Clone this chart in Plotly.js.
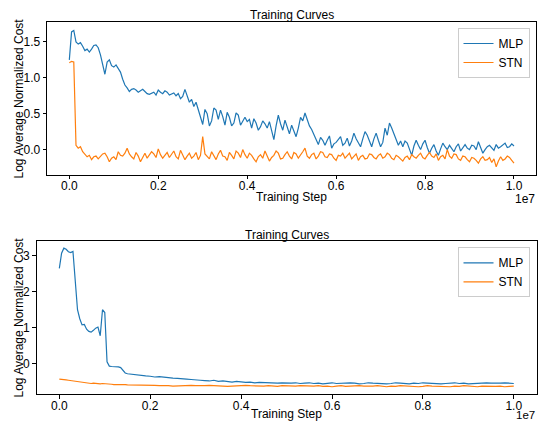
<!DOCTYPE html>
<html>
<head>
<meta charset="utf-8">
<script src="https://cdn.plot.ly/plotly-3.0.1.min.js"></script>
<style>html,body{margin:0;padding:0;background:#fff;}#chart{width:541px;height:421px;}</style>
</head>
<body>
<div id="chart"></div>
<script>
// Training step in units of 1e7
const stepsTop = [0,0.005,0.01,0.015,0.02,0.025,0.03,0.035,0.04,0.045,
0.05,0.055,0.06,0.065,0.07,0.075,0.08,0.085,0.09,0.095,
0.10,0.105,0.11,0.115,0.12,0.125,0.13,0.135,0.14,0.145,
0.15,0.155,0.16,0.165,0.17,0.175,0.18,0.185,0.19,0.195,
0.20,0.205,0.21,0.215,0.22,0.225,0.23,0.235,0.24,0.245,
0.25,0.255,0.26,0.265,0.27,0.275,0.28,0.285,0.29,0.295,
0.30,0.305,0.31,0.315,0.32,0.325,0.33,0.335,0.34,0.345,
0.35,0.355,0.36,0.365,0.37,0.375,0.38,0.385,0.39,0.395,
0.40,0.405,0.41,0.415,0.42,0.425,0.43,0.435,0.44,0.445,
0.45,0.455,0.46,0.465,0.47,0.475,0.48,0.485,0.49,0.495,
0.50,0.505,0.51,0.515,0.52,0.525,0.53,0.535,0.54,0.545,
0.55,0.555,0.56,0.565,0.57,0.575,0.58,0.585,0.59,0.595,
0.60,0.605,0.61,0.615,0.62,0.625,0.63,0.635,0.64,0.645,
0.65,0.655,0.66,0.665,0.67,0.675,0.68,0.685,0.69,0.695,
0.70,0.705,0.71,0.715,0.72,0.725,0.73,0.735,0.74,0.745,
0.75,0.755,0.76,0.765,0.77,0.775,0.78,0.785,0.79,0.795,
0.80,0.805,0.81,0.815,0.82,0.825,0.83,0.835,0.84,0.845,
0.85,0.855,0.86,0.865,0.87,0.875,0.88,0.885,0.89,0.895,
0.90,0.905,0.91,0.915,0.92,0.925,0.93,0.935,0.94,0.945,
0.95,0.955,0.96,0.965,0.97,0.975,0.98,0.985,0.99,0.995,
1.00];

const mlpTop = [1.25,1.64,1.66,1.50,1.47,1.49,1.44,1.38,1.40,1.36,
1.40,1.45,1.46,1.42,1.32,1.18,1.05,1.22,1.25,1.17,
1.15,1.18,1.12,1.08,0.98,0.90,0.86,0.81,0.84,0.85,
0.83,0.80,0.82,0.84,0.81,0.78,0.77,0.79,0.80,0.76,
0.83,0.80,0.78,0.82,0.80,0.76,0.77,0.79,0.75,0.78,
0.71,0.74,0.84,0.76,0.66,0.70,0.60,0.66,0.55,0.45,
0.35,0.56,0.50,0.33,0.40,0.58,0.55,0.42,0.55,0.46,
0.34,0.52,0.45,0.33,0.37,0.51,0.48,0.34,0.39,0.45,
0.39,0.42,0.30,0.43,0.37,0.27,0.32,0.40,0.36,0.30,
0.39,0.28,0.14,0.33,0.48,0.36,0.27,0.41,0.30,0.22,
0.34,0.27,0.18,0.30,0.45,0.40,0.51,0.42,0.33,0.28,
0.20,0.14,0.07,0.17,0.13,0.06,0.13,0.19,0.02,0.08,
0.10,0.14,0.18,0.06,0.09,0.16,0.05,0.12,0.23,0.15,
0.09,0.04,0.15,0.25,0.20,0.12,0.04,0.15,0.23,0.13,
0.04,0.10,0.30,0.20,0.37,0.30,0.23,0.14,0.06,0.12,
0.04,0.12,0.09,0.00,-0.08,0.05,0.13,0.06,0.00,0.08,
0.13,0.03,-0.05,0.02,0.07,-0.02,-0.08,0.01,0.09,0.04,
0.00,0.06,0.02,-0.03,0.04,0.08,-0.02,0.03,0.07,0.02,
0.00,0.06,0.05,0.00,0.11,0.03,-0.05,0.00,0.04,0.06,
0.02,-0.01,0.07,0.02,0.04,0.06,0.09,0.03,0.04,0.08,
0.05];

const stnTop = [1.21,1.23,1.22,0.06,0.02,0.04,-0.03,-0.07,-0.10,-0.08,
-0.14,-0.10,-0.09,-0.13,-0.09,-0.06,-0.05,-0.10,-0.17,-0.12,
-0.10,-0.14,-0.03,-0.08,-0.09,-0.05,0.02,-0.06,-0.10,-0.13,
-0.04,-0.09,-0.17,-0.11,-0.05,-0.12,-0.08,-0.03,-0.06,-0.11,
0.01,-0.07,-0.12,-0.08,-0.04,-0.11,-0.06,-0.02,-0.10,-0.13,
-0.01,-0.08,-0.14,-0.09,-0.05,-0.12,-0.09,-0.04,-0.14,-0.08,
0.18,-0.06,-0.09,-0.13,-0.03,-0.09,-0.14,-0.06,-0.01,-0.09,
-0.10,-0.15,-0.04,-0.08,-0.13,-0.02,-0.05,-0.11,0.00,-0.07,
-0.12,-0.05,-0.08,-0.13,-0.17,-0.10,-0.07,-0.12,-0.02,-0.09,
-0.16,-0.11,-0.08,-0.02,-0.05,-0.13,-0.12,-0.07,-0.03,-0.09,
-0.13,-0.04,-0.06,-0.12,-0.08,-0.03,0.02,-0.09,-0.12,-0.07,
-0.05,-0.13,-0.09,-0.03,-0.04,-0.10,-0.11,-0.06,-0.07,-0.12,
-0.15,-0.08,-0.09,-0.05,-0.12,-0.08,-0.05,-0.13,-0.10,-0.06,
-0.15,-0.10,-0.08,-0.13,-0.12,-0.06,-0.07,-0.11,-0.13,-0.08,
-0.06,-0.12,-0.10,-0.05,-0.07,-0.12,-0.14,-0.08,-0.10,-0.13,
-0.16,-0.11,-0.09,-0.14,-0.07,-0.10,-0.12,-0.08,-0.05,-0.11,
-0.13,-0.08,-0.04,-0.09,-0.11,-0.06,-0.15,-0.10,-0.08,-0.13,
0.00,-0.09,-0.12,-0.06,-0.07,-0.13,-0.15,-0.09,-0.10,-0.14,
-0.17,-0.11,-0.12,-0.15,-0.19,-0.13,-0.10,-0.15,-0.14,-0.11,
-0.18,-0.13,-0.24,-0.16,-0.10,-0.15,-0.13,-0.09,-0.11,-0.15,
-0.19];

const stepsBottom = [0,0.005,0.01,0.015,0.02,0.025,0.03,0.035,0.04,0.045,
0.05,0.055,0.06,0.065,0.07,0.075,0.08,0.085,0.09,0.095,
0.10,0.105,0.11,0.115,0.12,0.125,0.13,0.135,0.14,0.145,0.15,
0.16,0.17,0.18,0.19,0.20,0.21,0.22,0.23,0.24,0.25,
0.26,0.27,0.28,0.29,0.30,0.31,0.32,0.33,0.34,0.35,
0.36,0.37,0.38,0.39,0.40,0.41,0.42,0.43,0.44,0.45,
0.46,0.47,0.48,0.49,0.50,0.51,0.52,0.53,0.54,0.55,
0.56,0.57,0.58,0.59,0.60,0.61,0.62,0.63,0.64,0.65,
0.66,0.67,0.68,0.69,0.70,0.71,0.72,0.73,0.74,0.75,
0.76,0.77,0.78,0.79,0.80,0.81,0.82,0.83,0.84,0.85,
0.86,0.87,0.88,0.89,0.90,0.91,0.92,0.93,0.94,0.95,
0.96,0.97,0.98,0.99,1.00];

const mlpBottom = [2.64,3.06,3.20,3.17,3.10,3.08,3.11,2.35,1.50,1.25,
1.08,1.09,0.96,0.90,0.88,0.93,0.99,1.02,0.78,1.50,
1.42,0.06,-0.06,-0.07,-0.07,-0.08,-0.08,-0.10,-0.18,-0.25,-0.27,
-0.29,-0.30,-0.31,-0.33,-0.34,-0.36,-0.35,-0.37,-0.38,-0.39,
-0.40,-0.40,-0.42,-0.43,-0.43,-0.45,-0.46,-0.47,-0.45,-0.48,
-0.47,-0.49,-0.50,-0.48,-0.50,-0.51,-0.50,-0.52,-0.51,-0.52,
-0.53,-0.52,-0.53,-0.52,-0.53,
-0.53,-0.52,-0.54,-0.53,-0.52,-0.54,-0.53,-0.55,-0.53,-0.52,
-0.54,-0.53,-0.54,-0.52,-0.53,-0.55,-0.54,-0.52,-0.53,-0.54,
-0.53,-0.55,-0.54,-0.52,-0.53,-0.54,-0.55,-0.53,-0.54,-0.52,
-0.53,-0.54,-0.53,-0.55,-0.54,-0.53,-0.52,-0.54,-0.53,-0.55,
-0.54,-0.53,-0.54,-0.52,-0.53,-0.54,-0.53,-0.52,-0.53,-0.54];

const stnBottom = [-0.42,-0.42,-0.43,-0.44,-0.45,-0.46,-0.47,-0.49,-0.50,-0.51,
-0.52,-0.52,-0.53,-0.53,-0.54,-0.53,-0.54,-0.55,-0.55,-0.54,
-0.55,-0.56,-0.55,-0.56,-0.57,-0.56,-0.57,-0.57,-0.56,-0.57,-0.58,
-0.58,-0.57,-0.58,-0.59,-0.58,-0.59,-0.60,-0.59,-0.60,-0.61,
-0.60,-0.61,-0.60,-0.59,-0.60,-0.61,-0.60,-0.59,-0.60,-0.61,
-0.60,-0.62,-0.61,-0.60,-0.61,-0.59,-0.60,-0.61,-0.62,-0.61,
-0.60,-0.61,-0.62,-0.60,-0.61,-0.62,-0.61,-0.60,-0.61,-0.62,
-0.61,-0.60,-0.62,-0.61,-0.63,-0.61,-0.60,-0.62,-0.61,-0.62,
-0.60,-0.61,-0.62,-0.61,-0.60,-0.62,-0.63,-0.61,-0.62,-0.60,
-0.61,-0.62,-0.61,-0.63,-0.62,-0.60,-0.61,-0.62,-0.61,-0.62,
-0.63,-0.61,-0.62,-0.60,-0.61,-0.62,-0.63,-0.61,-0.62,-0.61,
-0.62,-0.61,-0.63,-0.62,-0.61];

const xTicks = [0, 0.2, 0.4, 0.6, 0.8, 1.0];
const seriesNames = ['MLP', 'STN'];
const colors = ['#1f77b4', '#ff7f0e'];

const W = 541, H = 421;
const FONT = 'Liberation Sans, Arial, Helvetica, sans-serif';
const px = v => v / W;
const py = v => 1 - v / H;

const mk = (x, y, i, xa, ya, lg) => ({
  x, y, name: seriesNames[i], type: 'scatter', mode: 'lines',
  line: {color: colors[i], width: 1.2}, xaxis: xa, yaxis: ya, legend: lg
});

const traces = [
  mk(stepsTop, mlpTop, 0, 'x', 'y', 'legend'),
  mk(stepsTop, stnTop, 1, 'x', 'y', 'legend'),
  mk(stepsBottom, mlpBottom, 0, 'x2', 'y2', 'legend2'),
  mk(stepsBottom, stnBottom, 1, 'x2', 'y2', 'legend2')
];

const axisBase = {
  showline: true, mirror: true, linecolor: '#000', linewidth: 1,
  ticks: 'outside', ticklen: 3.5, tickwidth: 1, tickcolor: '#000',
  showgrid: false, zeroline: false,
  tickfont: {family: FONT, size: 12, color: '#000'}
};

const legendBase = {
  bgcolor: 'rgba(255,255,255,0.8)', bordercolor: '#cccccc', borderwidth: 1,
  font: {family: FONT, size: 12, color: '#000'},
  xanchor: 'right', yanchor: 'top', tracegroupgap: 0
};

const ann = (text, x, y, extra) => Object.assign({
  text, x, y, xref: 'paper', yref: 'paper', showarrow: false,
  xanchor: 'center', yanchor: 'middle',
  font: {family: FONT, size: 12, color: '#000'}
}, extra || {});

const layout = {
  width: W, height: H,
  margin: {l: 0, r: 0, t: 0, b: 0},
  paper_bgcolor: '#fff', plot_bgcolor: '#fff',
  showlegend: true,
  xaxis: Object.assign({}, axisBase, {domain: [px(47.1), px(536.2)], range: [-0.05, 1.05],
    tickvals: xTicks, tickformat: '.1f', anchor: 'y', ticklabelstandoff: -3}),
  yaxis: Object.assign({}, axisBase, {domain: [py(174.5), py(22.3)], range: [-0.347, 1.774],
    dtick: 0.5, tick0: 0, tickformat: '.1f', anchor: 'x'}),
  xaxis2: Object.assign({}, axisBase, {domain: [px(36.6), px(536.5)], range: [-0.05, 1.05],
    tickvals: xTicks, tickformat: '.1f', anchor: 'y2', ticklabelstandoff: -3}),
  yaxis2: Object.assign({}, axisBase, {domain: [py(394), py(240.7)], range: [-0.83, 3.406],
    dtick: 1, tick0: 0, tickformat: 'd', anchor: 'x2'}),
  legend: Object.assign({}, legendBase, {x: px(529.5), y: py(28)}),
  legend2: Object.assign({}, legendBase, {x: px(529.5), y: py(247.3)}),
  annotations: [
    ann('Training Curves', px(291.6), py(15)),
    ann('Training Curves', px(286.5), py(234.5)),
    ann('Training Step', px(291.6), py(197)),
    ann('Training Step', px(286.5), py(413.5)),
    ann('Log Average Normalized Cost', px(18), py(98.5), {textangle: -90}),
    ann('Log Average Normalized Cost', px(18), py(317.5), {textangle: -90}),
    ann('1e7', px(536.5), py(199), {xanchor: 'right'}),
    ann('1e7', px(536.5), py(415), {xanchor: 'right', font: {family: FONT, size: 11.5, color: '#000'}})
  ]
};

Plotly.newPlot('chart', traces, layout, {staticPlot: true, displayModeBar: false});
</script>
</body>
</html>
